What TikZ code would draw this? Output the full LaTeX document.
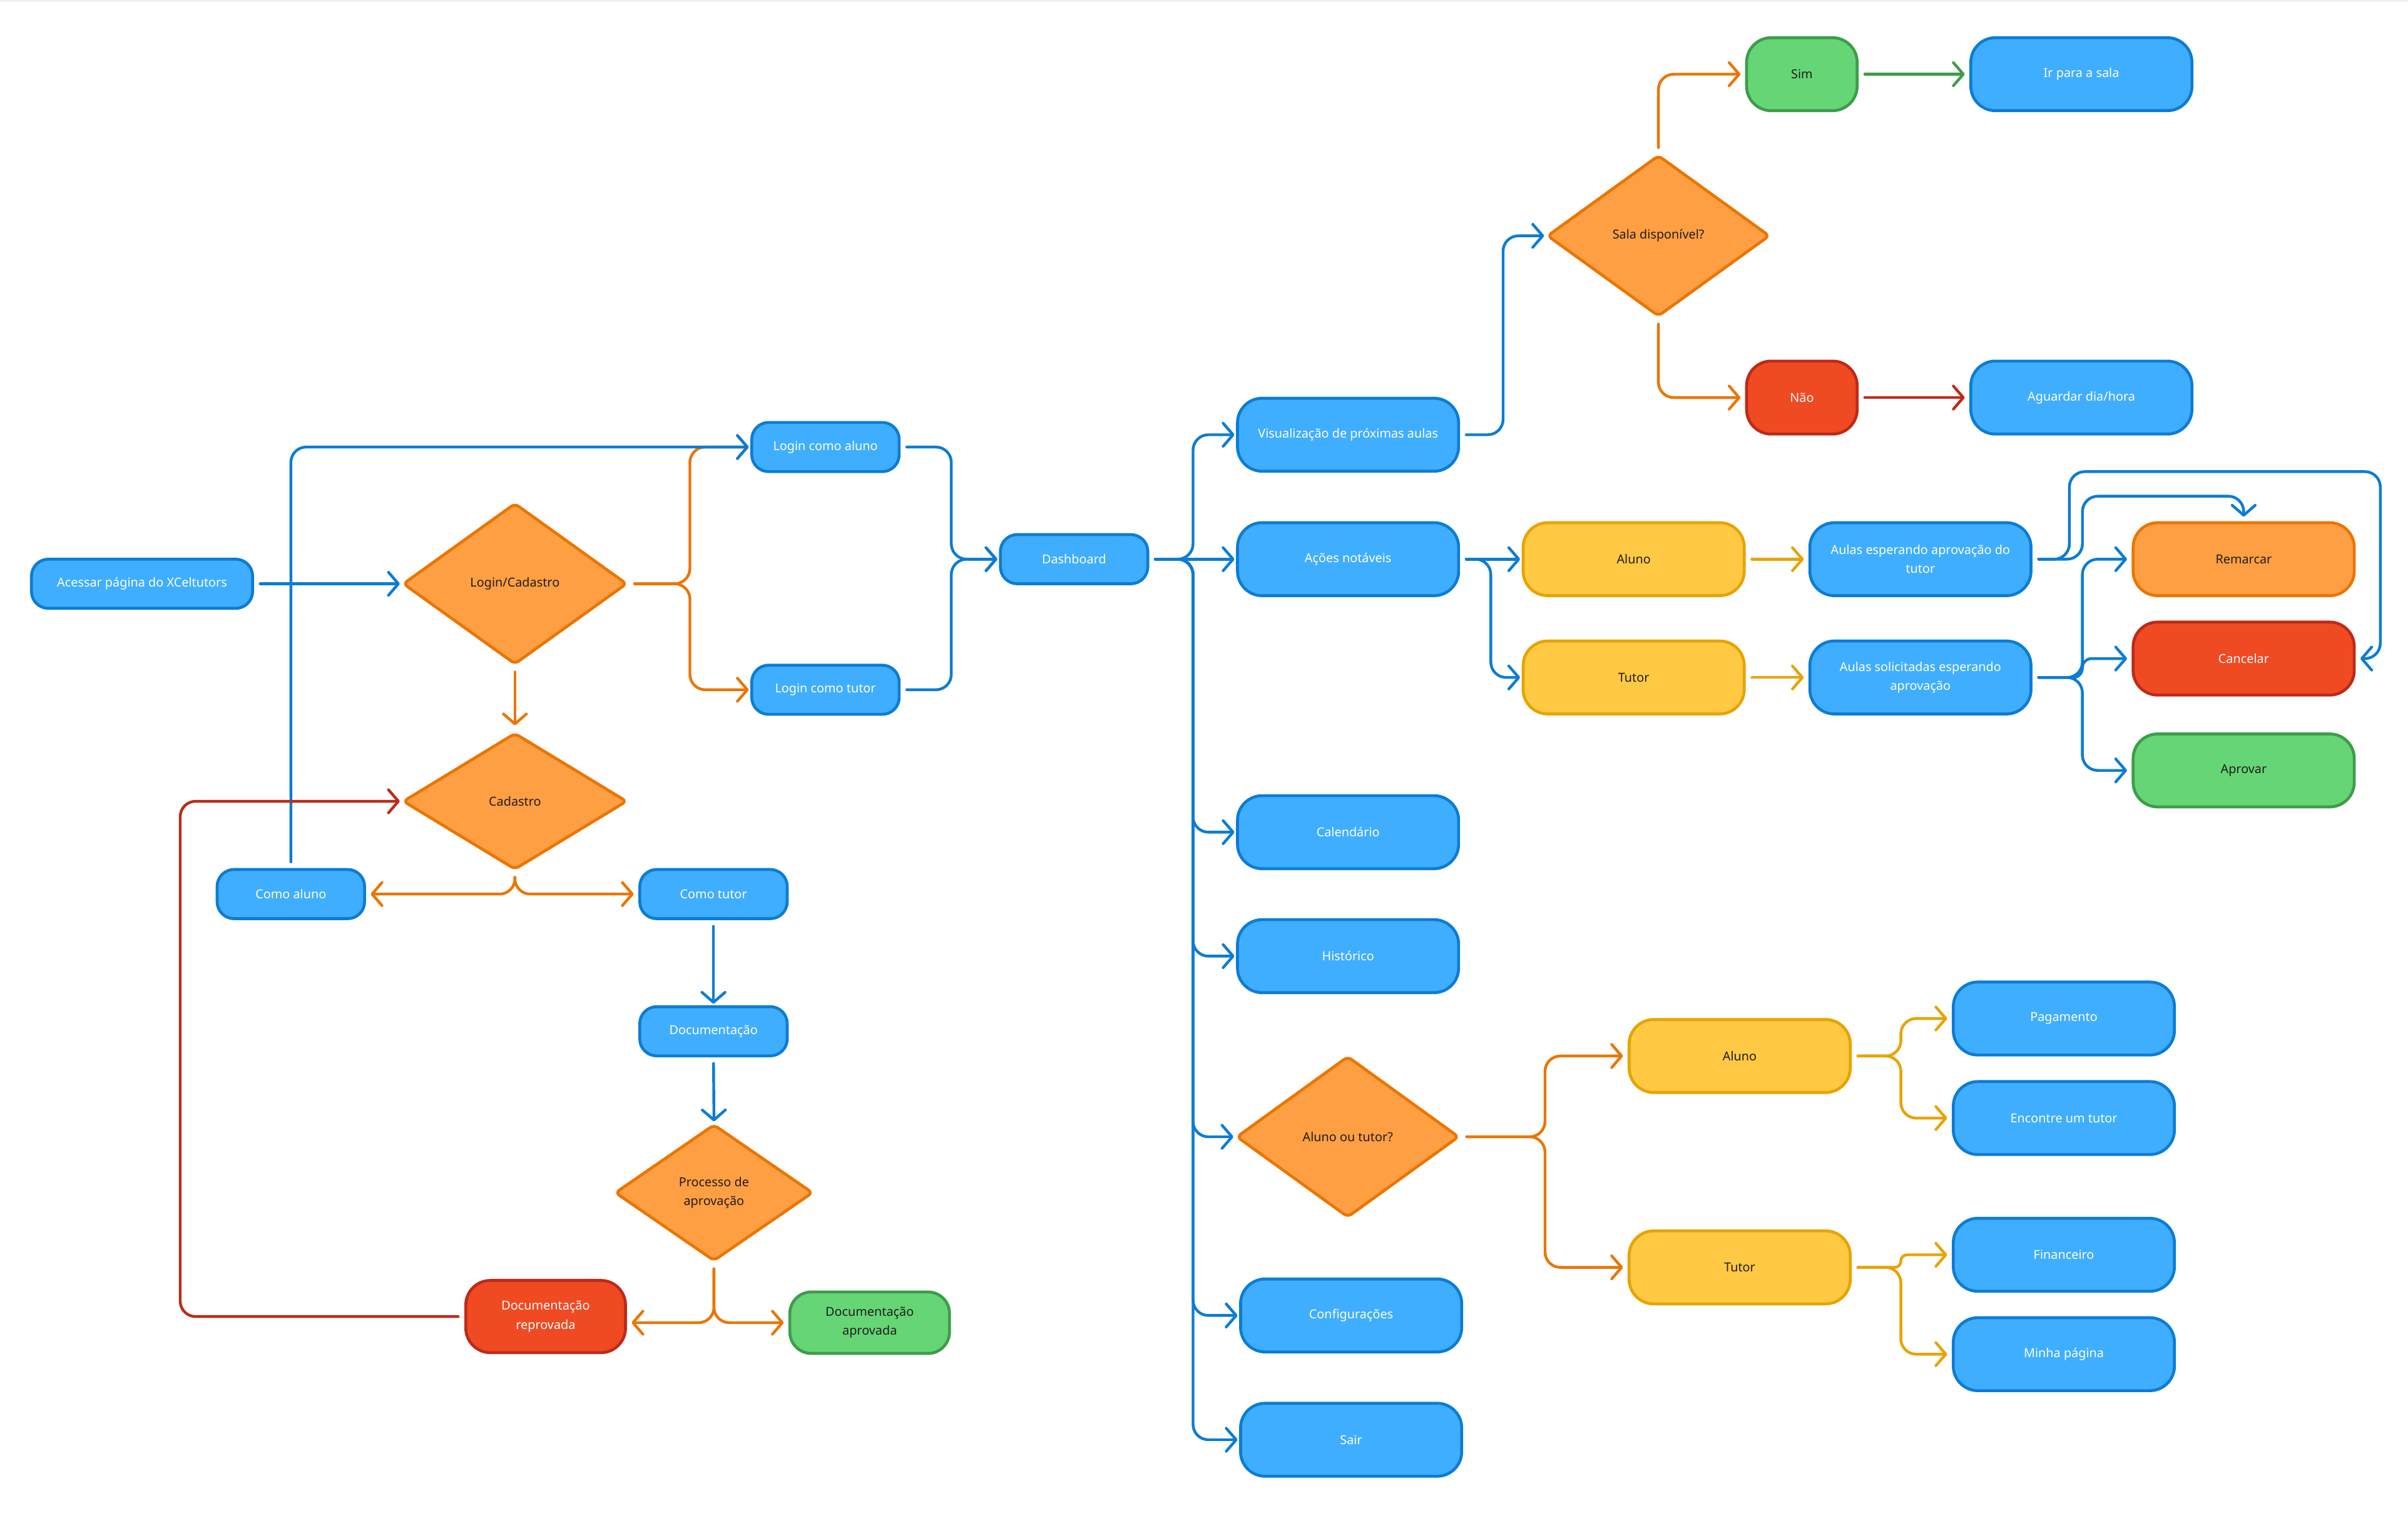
\documentclass[tikz,border=0pt]{standalone}
\usepackage{fontspec}
\setmainfont{Noto Sans}
\usetikzlibrary{arrows.meta,shapes.geometric,calc}
\definecolor{bfill}{HTML}{40AEFF}
\definecolor{bline}{HTML}{0C7CD5}
\definecolor{ofill}{HTML}{FF9F43}
\definecolor{oline}{HTML}{EB7500}
\definecolor{yfill}{HTML}{FFC943}
\definecolor{yline}{HTML}{E8A302}
\definecolor{rfill}{HTML}{F04A23}
\definecolor{rline}{HTML}{BE2A18}
\definecolor{gfill}{HTML}{66D575}
\definecolor{gline}{HTML}{3E9C4B}
\definecolor{dtext}{HTML}{1E1E1E}
\newcommand{\dfont}{\fontsize{23pt}{35pt}\selectfont}
\tikzset{
  basebox/.style={rectangle, line width=1.9mm, inner sep=0pt, align=center, font=\dfont},
  bluebox/.style={basebox, fill=bfill, draw=bline, text=white},
  redbox/.style={basebox, fill=rfill, draw=rline, text=white},
  greenbox/.style={basebox, fill=gfill, draw=gline, text=dtext},
  yelbox/.style={basebox, fill=yfill, draw=yline, text=dtext},
  orbox/.style={basebox, fill=ofill, draw=oline, text=dtext},
  dia/.style={diamond, line width=1.9mm, inner sep=0pt, align=center, font=\dfont, fill=ofill, draw=oline, text=dtext, rounded corners=3mm},
  sm/.style={minimum width=96mm, minimum height=32mm, rounded corners=11mm},
  lg/.style={minimum width=144mm, minimum height=47.5mm, rounded corners=16mm},
  conn/.style={line width=1.8mm, line cap=round, rounded corners=10mm, shorten <=4mm, shorten >=1mm,
    -{Straight Barb[length=6.5mm,width=15mm,round]}},
  bc/.style={conn, draw=bline},
  oc/.style={conn, draw=oline},
  yc/.style={conn, draw=yline},
  rc/.style={conn, draw=rline},
  gc/.style={conn, draw=gline},
}
\begin{document}
\begin{tikzpicture}[x=1mm,y=-1mm]
\useasboundingbox (0,0) rectangle (1568,984.5);
\fill[gray!12] (0,0) rectangle (1568,1.2);

% nodes
\node[bluebox, sm, minimum width=144mm] (acc) at (92.5,380) {Acessar página do XCeltutors};
\node[dia, minimum width=146mm, minimum height=105mm] (lc) at (335.3,380) {Login/Cadastro};
\node[bluebox, sm] (lga) at (537.5,291) {Login como aluno};
\node[bluebox, sm] (lgt) at (537.5,449) {Login como tutor};
\node[dia, minimum width=146mm, minimum height=89mm] (cad) at (335.3,521.6) {Cadastro};
\node[bluebox, sm] (ca) at (189.4,582) {Como aluno};
\node[bluebox, sm] (ct) at (464.6,582) {Como tutor};
\node[bluebox, sm] (doc) at (464.6,671.3) {Documentação};
\node[dia, minimum width=129mm, minimum height=89mm] (proc) at (464.9,776.4) {Processo de\\aprovação};
\node[redbox, minimum width=104mm, minimum height=47mm, rounded corners=16mm] (rep) at (355.3,857) {Documentação\\reprovada};
\node[greenbox, minimum width=104mm, minimum height=40mm, rounded corners=14mm] (apr) at (566.3,861) {Documentação\\aprovada};
\node[bluebox, sm] (dash) at (699.4,364) {Dashboard};
\node[bluebox, lg] (vis) at (877.8,283) {Visualização de próximas aulas};
\node[bluebox, lg] (aco) at (877.8,364) {Ações notáveis};
\node[bluebox, lg] (cal) at (877.8,541.7) {Calendário};
\node[bluebox, lg] (his) at (877.8,622.4) {Histórico};
\node[dia, minimum width=145mm, minimum height=105mm] (aot) at (877.6,740) {Aluno ou tutor?};
\node[bluebox, lg] (cfg) at (879.8,856.3) {Configurações};
\node[bluebox, lg] (sair) at (879.8,937.2) {Sair};
\node[dia, minimum width=145mm, minimum height=105mm] (sala) at (1079.9,153.5) {Sala disponível?};
\node[greenbox, minimum width=72mm, minimum height=47.5mm, rounded corners=16mm] (sim) at (1173.3,48.3) {Sim};
\node[bluebox, lg] (ir) at (1355.3,48.3) {Ir para a sala};
\node[redbox, minimum width=72mm, minimum height=47.5mm, rounded corners=16mm] (nao) at (1173.3,258.8) {Não};
\node[bluebox, lg] (agu) at (1355.3,258.8) {Aguardar dia/hora};
\node[yelbox, lg] (al1) at (1063.8,364) {Aluno};
\node[yelbox, lg] (tu1) at (1063.8,441) {Tutor};
\node[bluebox, lg] (aul1) at (1250.5,364) {Aulas esperando aprovação do\\tutor};
\node[bluebox, lg] (aul2) at (1250.5,441) {Aulas solicitadas esperando\\aprovação};
\node[orbox, lg] (rem) at (1461,364) {Remarcar};
\node[redbox, lg] (can) at (1461,428.7) {Cancelar};
\node[greenbox, lg] (aprv) at (1461,501.5) {Aprovar};
\node[yelbox, lg] (al2) at (1132.8,687.4) {Aluno};
\node[yelbox, lg] (tu2) at (1132.8,825) {Tutor};
\node[bluebox, lg] (pag) at (1343.9,663) {Pagamento};
\node[bluebox, lg] (enc) at (1343.9,727.8) {Encontre um tutor};
\node[bluebox, lg] (fin) at (1343.9,816.8) {Financeiro};
\node[bluebox, lg] (minp) at (1343.9,881.5) {Minha página};

% connectors
\draw[bc] (acc.east) -- (lc.west);
\draw[oc] (lc.east) -- ++(40,0) |- (lga.west);
\draw[oc] (lc.east) -- ++(40,0) |- (lgt.west);
\draw[oc, shorten >=4mm] (lc.south) -- (cad.north);
\draw[oc, shorten >=3mm] (cad.south) |- (ca.east);
\draw[oc, shorten >=3mm] (cad.south) |- (ct.west);
\draw[bc] (ca.north) |- (lga.west);
\draw[bc] (ct.south) -- (doc.north);
\draw[bc] (doc.south) -- (proc.north);
\draw[oc, shorten >=3mm] (proc.south) |- (rep.east |- apr.west);
\draw[oc, shorten >=3mm] (proc.south) |- (apr.west);
\draw[rc] (rep.west) -| ([xshift=-144mm]cad.west) -- (cad.west);
\draw[bc] (lga.east) -- ++(33,0) |- (dash.west);
\draw[bc] (lgt.east) -- ++(33,0) |- (dash.west);
\draw[bc] (dash.east) -- ++(28.5,0) |- (vis.west);
\draw[bc] (dash.east) -- (aco.west);
\draw[bc] (dash.east) -- ++(28.5,0) |- (cal.west);
\draw[bc] (dash.east) -- ++(28.5,0) |- (his.west);
\draw[bc] (dash.east) -- ++(28.5,0) |- (aot.west);
\draw[bc] (dash.east) -- ++(28.5,0) |- (cfg.west);
\draw[bc] (dash.east) -- ++(28.5,0) |- (sair.west);
\draw[bc] (vis.east) -- ++(28,0) |- (sala.west);
\draw[oc, shorten >=3mm] (sala.north) |- (sim.west);
\draw[oc, shorten >=3mm] (sala.south) |- (nao.west);
\draw[gc, shorten >=3mm] (sim.east) -- (ir.west);
\draw[rc, shorten >=3mm] (nao.east) -- (agu.west);
\draw[bc] (aco.east) -- (al1.west);
\draw[bc] (aco.east) -- ++(20,0) |- (tu1.west);
\draw[yc, shorten >=3mm] (al1.east) -- (aul1.west);
\draw[yc, shorten >=3mm] (tu1.east) -- (aul2.west);
\draw[bc, shorten >=3mm] (aul1.east) -| (1356,323) -| (rem.north);
\draw[bc, shorten >=3mm] (aul1.east) -| (1347.5,307) -| ([xshift=16mm]can.east) -- (can.east);
\draw[bc, shorten >=3mm] (aul2.east) -- ++(32.5,0) |- (rem.west);
\draw[bc, shorten >=3mm, rounded corners=6mm] (aul2.east) -- ++(32.5,0) |- (can.west);
\draw[bc, shorten >=3mm] (aul2.east) -- ++(32.5,0) |- (aprv.west);
\draw[oc, shorten >=3mm] (aot.east) -- ++(55,0) |- (al2.west);
\draw[oc, shorten >=3mm] (aot.east) -- ++(55,0) |- (tu2.west);
\draw[yc, shorten >=3mm] (al2.east) -- ++(32,0) |- (pag.west);
\draw[yc, shorten >=3mm] (al2.east) -- ++(32,0) |- (enc.west);
\draw[yc, shorten >=3mm, rounded corners=4mm] (tu2.east) -- ++(32,0) |- (fin.west);
\draw[yc, shorten >=3mm] (tu2.east) -- ++(32,0) |- (minp.west);
\end{tikzpicture}
\end{document}
